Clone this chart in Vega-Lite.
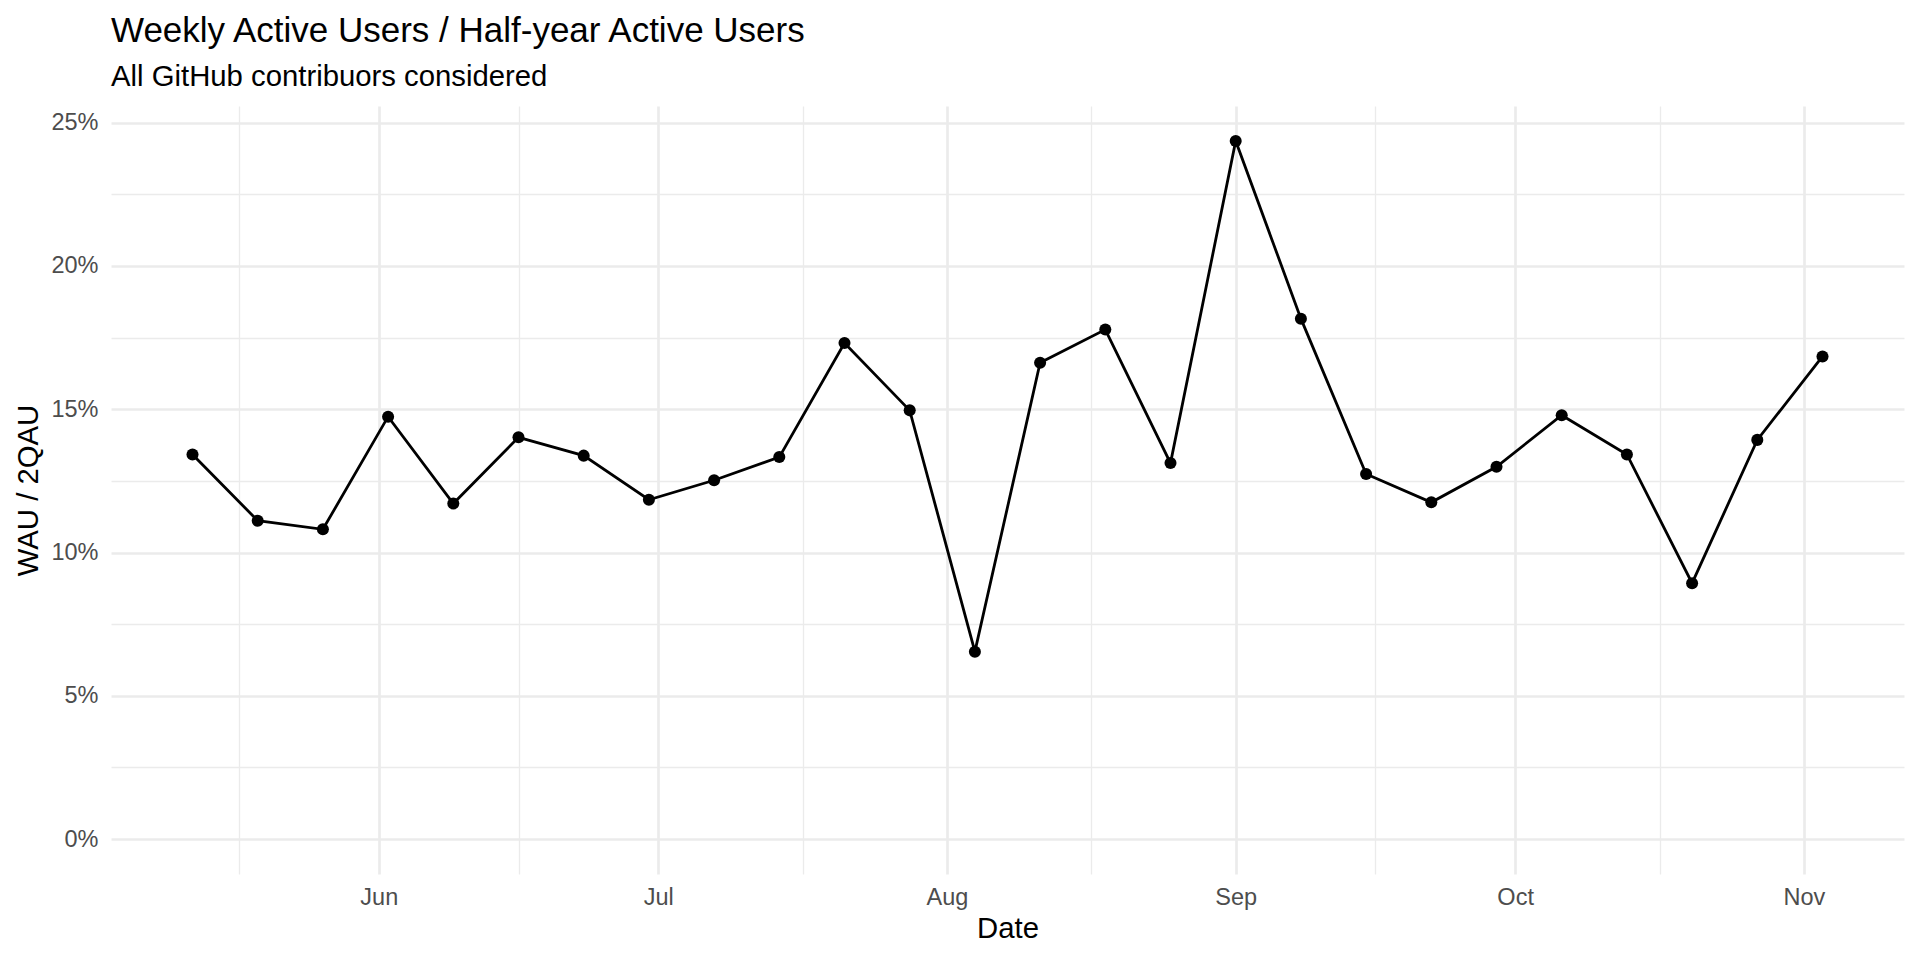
{
  "$schema": "https://vega.github.io/schema/vega-lite/v6.json",
  "width": 1793,
  "height": 768,
  "autosize": {"type": "none"},
  "padding": {"left": 111, "top": 106, "right": 16, "bottom": 86},
  "background": "white",
  "title": {
    "text": "Weekly Active Users / Half-year Active Users",
    "subtitle": "All GitHub contribuors considered",
    "anchor": "start",
    "frame": "group",
    "font": "Liberation Sans",
    "fontSize": 35,
    "fontWeight": "normal",
    "color": "black",
    "subtitleFont": "Liberation Sans",
    "subtitleFontSize": 29.3,
    "subtitleColor": "black",
    "subtitlePadding": 14,
    "offset": 14
  },
  "config": {
    "view": {"stroke": null},
    "axis": {
      "domain": false,
      "ticks": false,
      "tickSize": 0,
      "labelFont": "Liberation Sans",
      "labelFontSize": 23.5,
      "labelColor": "#4D4D4D",
      "titleFont": "Liberation Sans",
      "titleFontSize": 29.3,
      "titleFontWeight": "normal",
      "titleColor": "black",
      "gridColor": "#EBEBEB",
      "labelOverlap": false,
      "labelFlush": false
    }
  },
  "data": {
    "values": [
      {"date": "2019-05-12", "ratio": 0.1342},
      {"date": "2019-05-19", "ratio": 0.1111},
      {"date": "2019-05-26", "ratio": 0.1081},
      {"date": "2019-06-02", "ratio": 0.1474},
      {"date": "2019-06-09", "ratio": 0.1171},
      {"date": "2019-06-16", "ratio": 0.1402},
      {"date": "2019-06-23", "ratio": 0.1338},
      {"date": "2019-06-30", "ratio": 0.1184},
      {"date": "2019-07-07", "ratio": 0.1252},
      {"date": "2019-07-14", "ratio": 0.1333},
      {"date": "2019-07-21", "ratio": 0.1731},
      {"date": "2019-07-28", "ratio": 0.1496},
      {"date": "2019-08-04", "ratio": 0.0654},
      {"date": "2019-08-11", "ratio": 0.1662},
      {"date": "2019-08-18", "ratio": 0.1778},
      {"date": "2019-08-25", "ratio": 0.1312},
      {"date": "2019-09-01", "ratio": 0.2436},
      {"date": "2019-09-08", "ratio": 0.1816},
      {"date": "2019-09-15", "ratio": 0.1274},
      {"date": "2019-09-22", "ratio": 0.1175},
      {"date": "2019-09-29", "ratio": 0.1299},
      {"date": "2019-10-06", "ratio": 0.1479},
      {"date": "2019-10-13", "ratio": 0.1342},
      {"date": "2019-10-20", "ratio": 0.0893},
      {"date": "2019-10-27", "ratio": 0.1393},
      {"date": "2019-11-03", "ratio": 0.1684}
    ]
  },
  "encoding": {
    "x": {
      "field": "date",
      "type": "temporal",
      "title": "Date",
      "scale": {
        "type": "utc",
        "nice": false,
        "domain": [
          {"year": 2019, "month": 5, "date": 3, "hours": 6, "utc": true},
          {"year": 2019, "month": 11, "date": 11, "hours": 18, "utc": true}
        ]
      },
      "axis": {
        "values": [
          {"year": 2019, "month": 5, "date": 17, "utc": true},
          {"year": 2019, "month": 6, "date": 1, "utc": true},
          {"year": 2019, "month": 6, "date": 16, "utc": true},
          {"year": 2019, "month": 7, "date": 1, "utc": true},
          {"year": 2019, "month": 7, "date": 16, "hours": 12, "utc": true},
          {"year": 2019, "month": 8, "date": 1, "utc": true},
          {"year": 2019, "month": 8, "date": 16, "hours": 12, "utc": true},
          {"year": 2019, "month": 9, "date": 1, "utc": true},
          {"year": 2019, "month": 9, "date": 16, "utc": true},
          {"year": 2019, "month": 10, "date": 1, "utc": true},
          {"year": 2019, "month": 10, "date": 16, "hours": 12, "utc": true},
          {"year": 2019, "month": 11, "date": 1, "utc": true}
        ],
        "labelExpr": "utcdate(datum.value) == 1 && utchours(datum.value) == 0 ? utcFormat(datum.value, '%b') : ''",
        "gridWidth": {"condition": {"test": "utcdate(datum.value) == 1 && utchours(datum.value) == 0", "value": 2.7}, "value": 1.3},
        "labelPadding": 11,
        "titlePadding": 6
      }
    },
    "y": {
      "field": "ratio",
      "type": "quantitative",
      "title": "WAU / 2QAU",
      "scale": {"domain": [-0.01218, 0.2558], "nice": false, "zero": false},
      "axis": {
        "values": [0, 0.025, 0.05, 0.075, 0.1, 0.125, 0.15, 0.175, 0.2, 0.225, 0.25],
        "labelExpr": "round(datum.value * 1000) % 50 == 0 ? format(datum.value, '.0%') : ''",
        "gridWidth": {"condition": {"test": "round(datum.value * 1000) % 50 == 0", "value": 2.7}, "value": 1.3},
        "labelPadding": 13,
        "titlePadding": 7
      }
    }
  },
  "layer": [
    {"mark": {"type": "line", "color": "black", "strokeWidth": 2.8}},
    {"mark": {"type": "point", "filled": true, "color": "black", "size": 145, "opacity": 1}}
  ]
}
